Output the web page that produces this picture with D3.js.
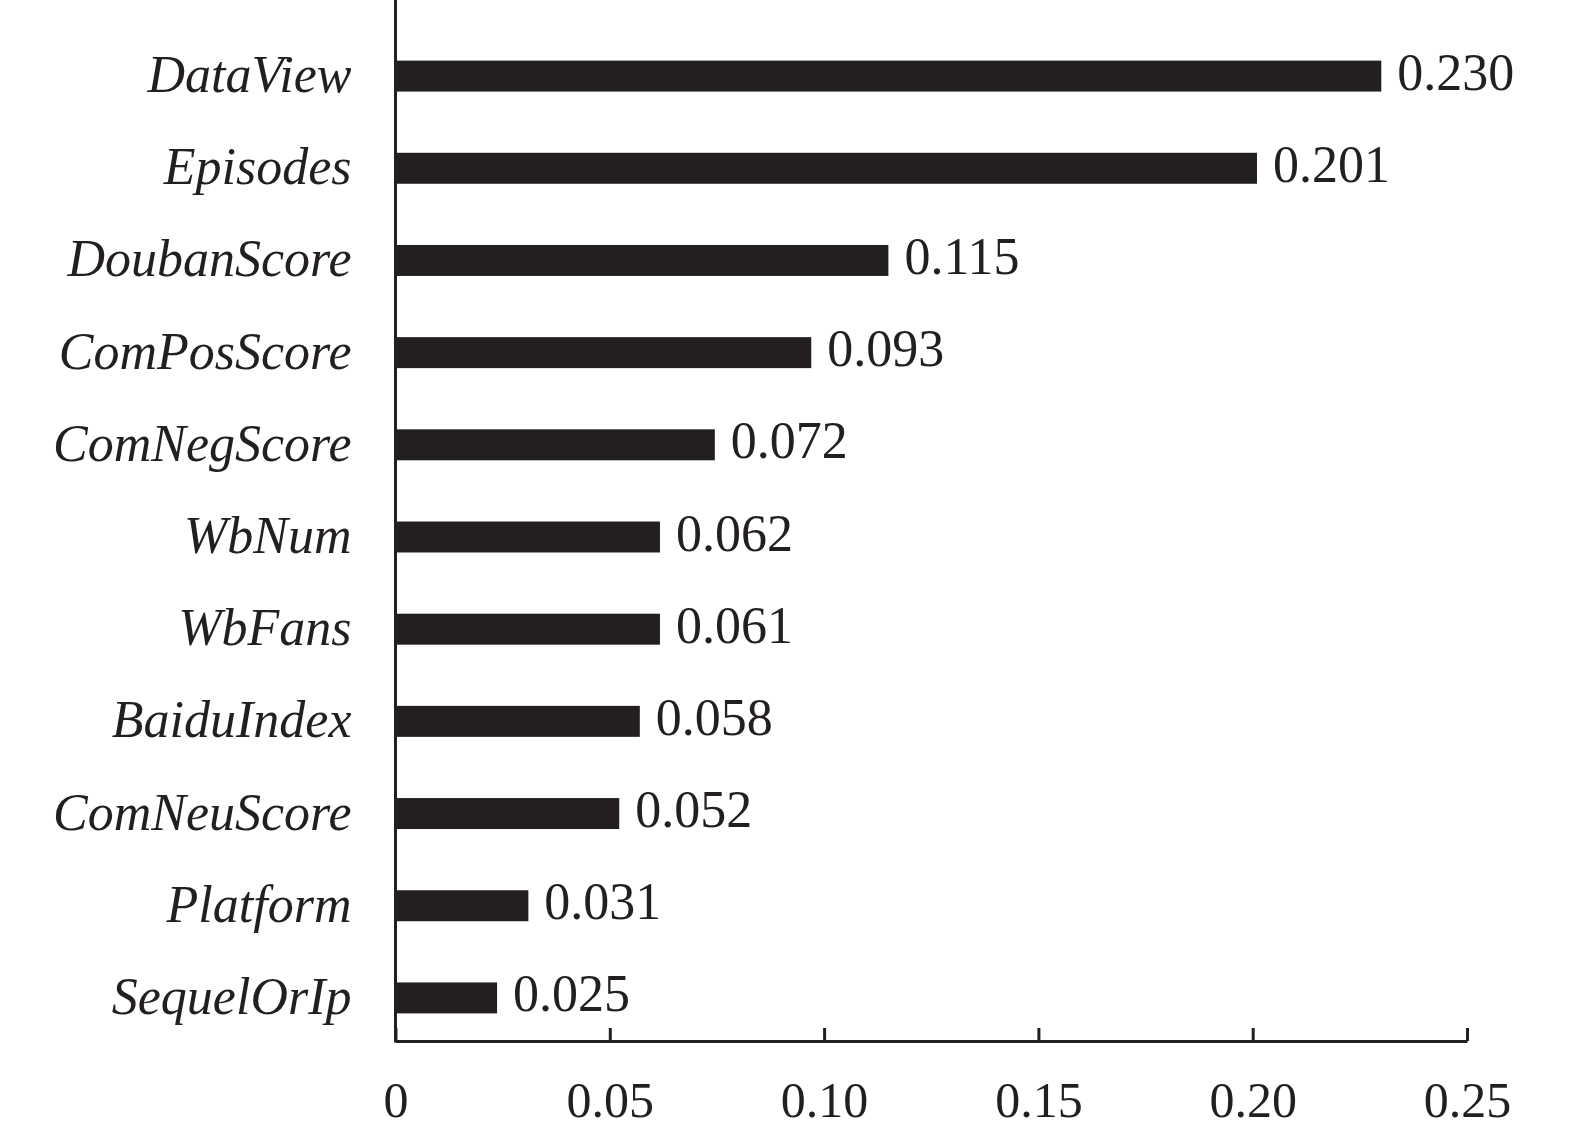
<!DOCTYPE html>
<html>
<head>
<meta charset="utf-8">
<script src="https://cdn.jsdelivr.net/npm/d3@7"></script>
<style>
  body { margin: 0; background: #fff; }
  svg { display: block; }
</style>
</head>
<body>
<svg id="chart" width="1575" height="1136"></svg>
<script>
// features, top to bottom
const features = ["DataView", "Episodes", "DoubanScore", "ComPosScore", "ComNegScore",
  "WbNum", "WbFans", "BaiduIndex", "ComNeuScore", "Platform", "SequelOrIp"];
// bar lengths as drawn in the figure
const importance = [0.230, 0.201, 0.115, 0.097, 0.0745, 0.0617, 0.0617, 0.057, 0.0522, 0.031, 0.0237];
// printed values next to the bars
const valueLabels = ["0.230", "0.201", "0.115", "0.093", "0.072", "0.062", "0.061", "0.058", "0.052", "0.031", "0.025"];
const xTicks = [0, 0.05, 0.10, 0.15, 0.20, 0.25];

const ink = "#231f20";
const font = "'Liberation Serif', 'Times New Roman', serif";

const svg = d3.select("#chart");
const axisY = 1041;

const x = d3.scaleLinear().domain([0, 0.25]).range([395.5, 1467]);
const y = d3.scaleBand().domain(features).range([30, 1044])
  .paddingInner(0.664).paddingOuter(0.332);

// bars
svg.append("g").selectAll("rect")
  .data(features)
  .join("rect")
    .attr("x", x(0))
    .attr("y", d => y(d))
    .attr("width", (d, i) => x(importance[i]) - x(0))
    .attr("height", y.bandwidth())
    .attr("fill", ink);

// value labels
svg.append("g").selectAll("text")
  .data(features)
  .join("text")
    .attr("x", (d, i) => x(importance[i]) + 16)
    .attr("y", d => y(d) + y.bandwidth() / 2 + 13.5)
    .attr("font-family", font)
    .attr("font-size", 52)
    .attr("fill", ink)
    .text((d, i) => valueLabels[i]);

// category labels
const yAxis = svg.append("g")
  .attr("transform", `translate(${x(0)},0)`)
  .call(d3.axisLeft(y).tickSize(0).tickPadding(44));
yAxis.select(".domain").remove();
yAxis.selectAll("text")
  .attr("dy", 16)
  .attr("font-family", font)
  .attr("font-style", "italic")
  .attr("font-size", 52)
  .attr("fill", ink);

// vertical axis line
svg.append("line")
  .attr("x1", x(0)).attr("x2", x(0))
  .attr("y1", 0).attr("y2", axisY + 1.5)
  .attr("stroke", ink)
  .attr("stroke-width", 3);

// x axis
const xAxis = svg.append("g")
  .attr("transform", `translate(0,${axisY})`)
  .call(d3.axisBottom(x)
    .tickValues(xTicks)
    .tickSizeInner(-13)
    .tickSizeOuter(0)
    .tickFormat(d => d === 0 ? "0" : d3.format(".2f")(d)));
xAxis.select(".domain").attr("stroke", ink).attr("stroke-width", 3);
xAxis.selectAll(".tick line").attr("stroke", ink).attr("stroke-width", 3);
xAxis.selectAll("text")
  .attr("dy", null)
  .attr("y", 76)
  .attr("font-family", font)
  .attr("font-size", 50)
  .attr("fill", ink);
</script>
</body>
</html>
